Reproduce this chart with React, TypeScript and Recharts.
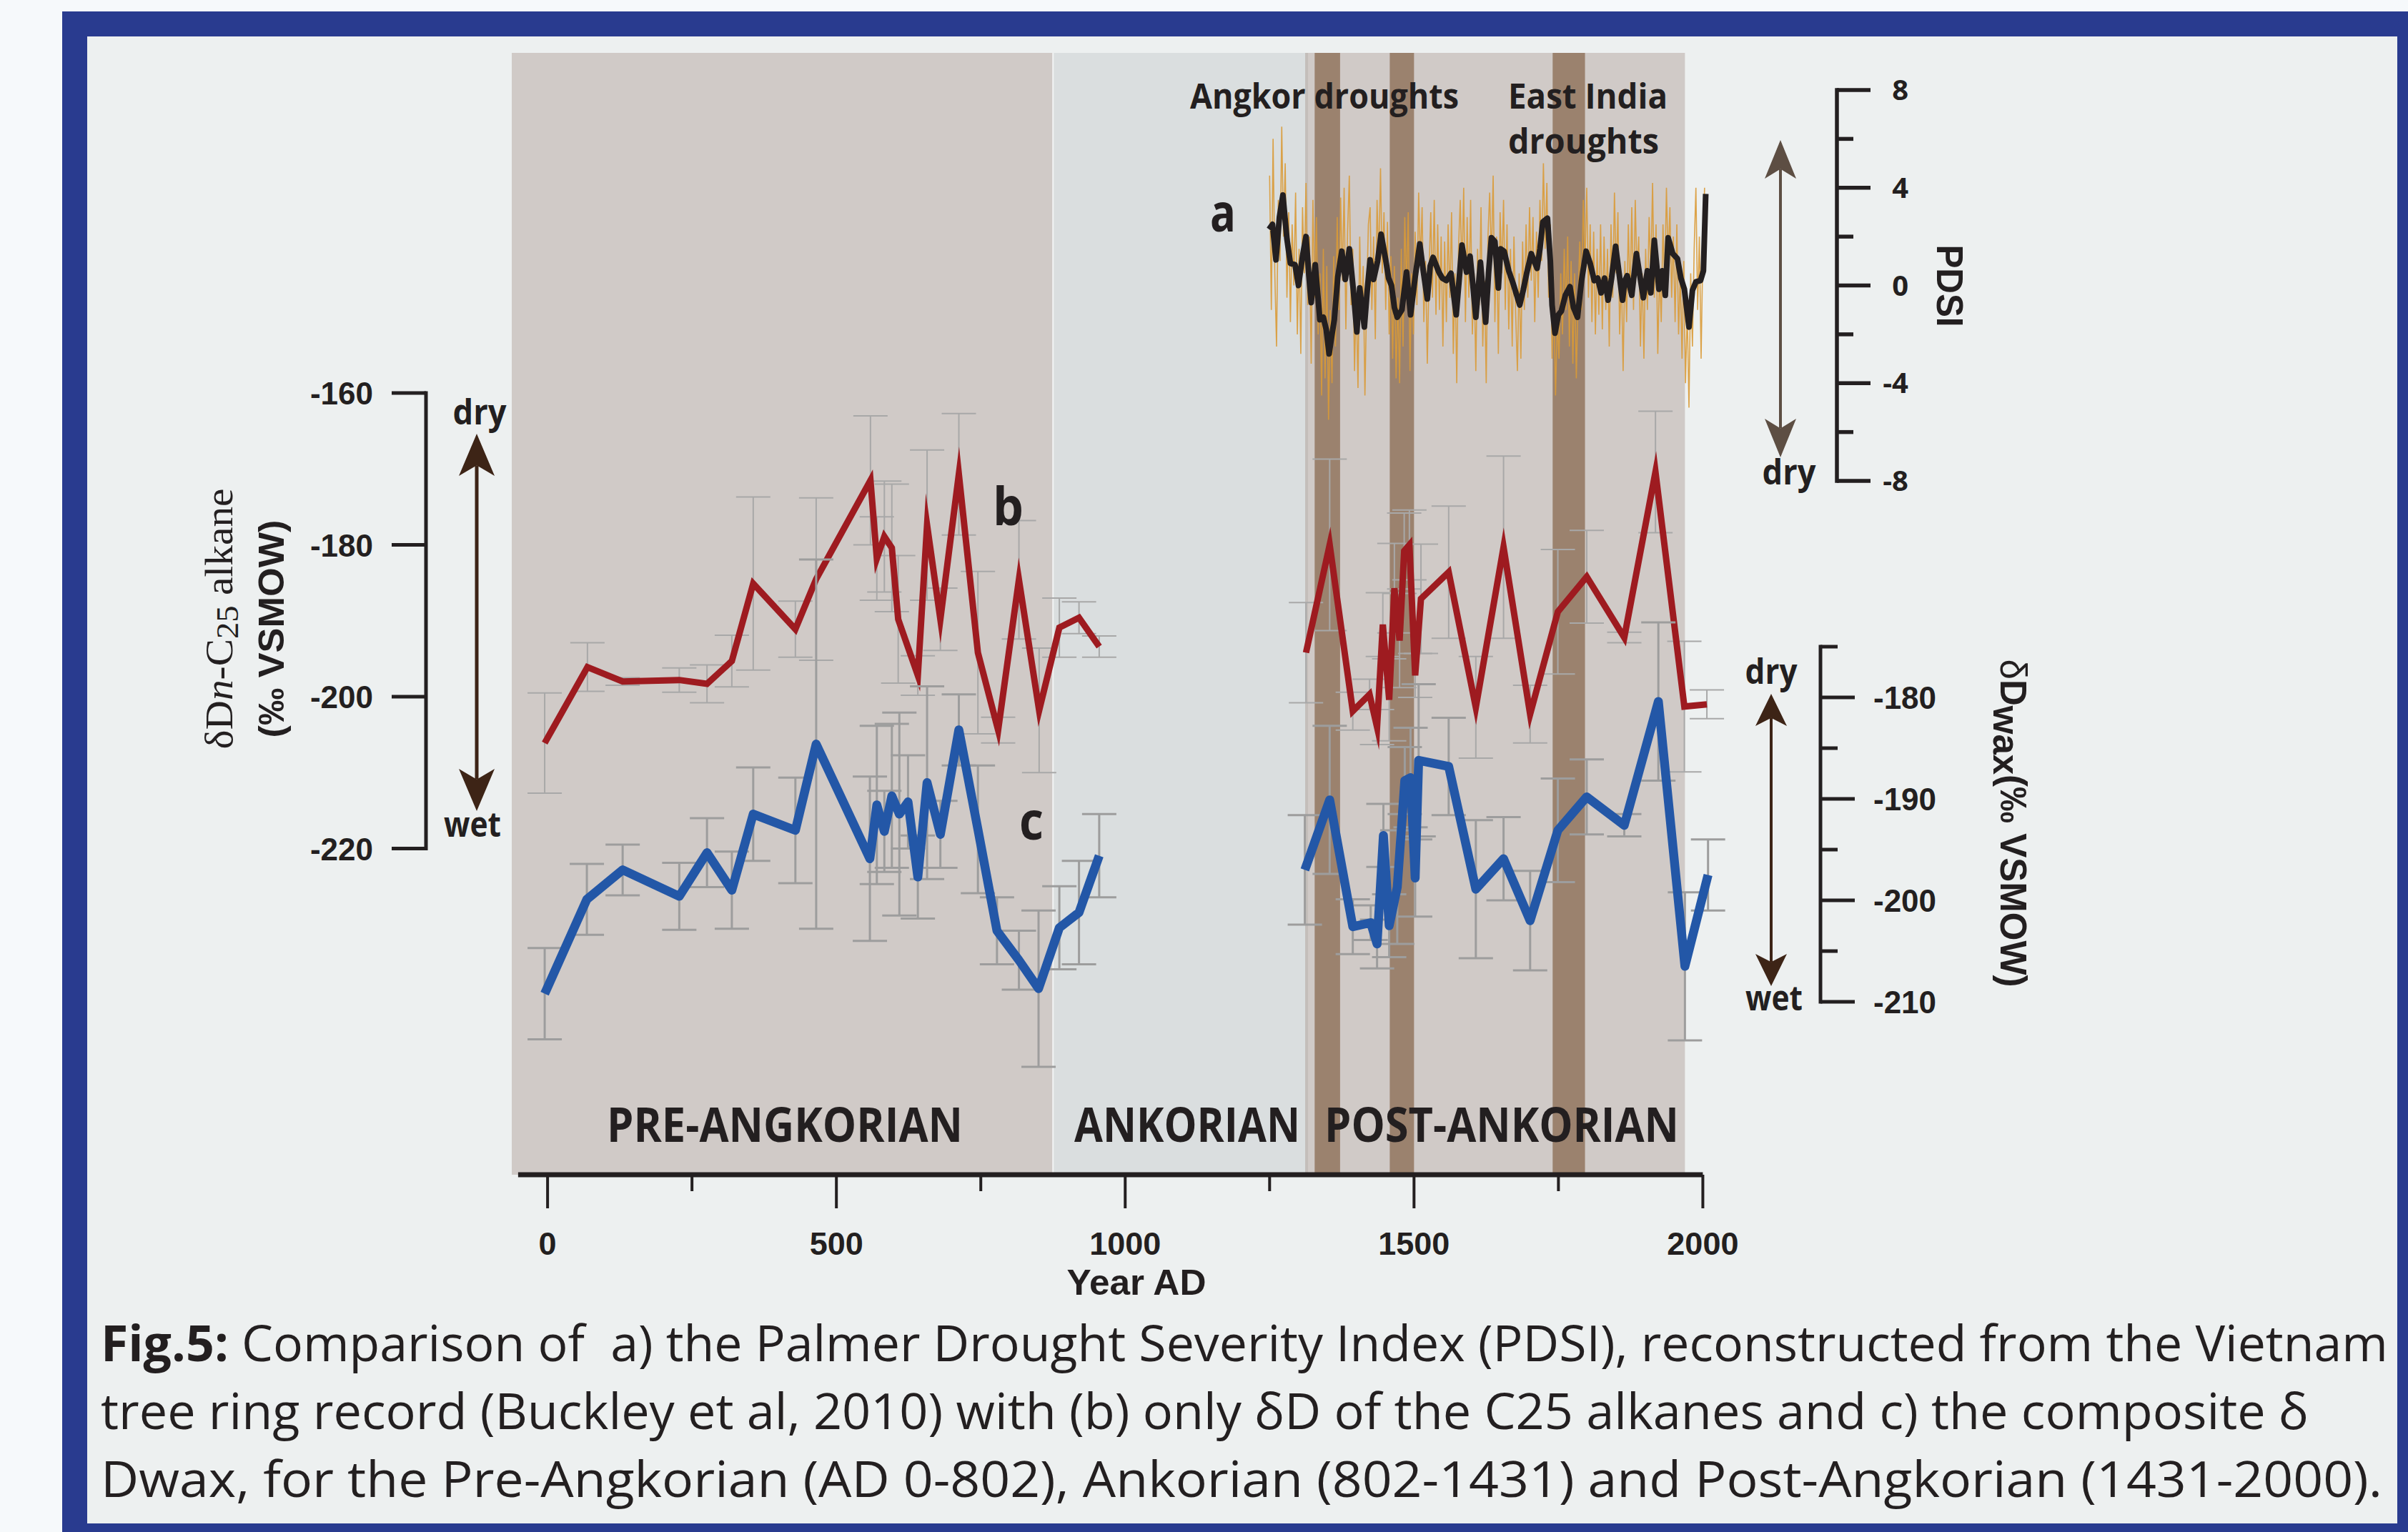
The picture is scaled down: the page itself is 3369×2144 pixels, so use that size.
import React from 'react';
import { ComposedChart, Line, XAxis, YAxis, ReferenceArea, ReferenceLine, ErrorBar } from 'recharts';

// ---------- data ----------
const X_TICKS = [0, 250, 500, 750, 1000, 1250, 1500, 1750, 2000];
const B_TICKS = [-160, -180, -200, -220];
const PDSI_TICKS = [8, 6, 4, 2, 0, -2, -4, -6, -8];
const WAX_TICKS = [-175, -180, -185, -190, -195, -200, -205, -210];

const PERIODS = [
  { name: 'PRE-ANGKORIAN', from: -62, to: 875, fill: '#d0cac7' },
  { name: 'ANKORIAN', from: 875, to: 1314, fill: '#dadedf' },
  { name: 'POST-ANKORIAN', from: 1314, to: 1969, fill: '#d0cac7' },
];
const DROUGHTS = [
  { from: 1328, to: 1372 },
  { from: 1458, to: 1500 },
  { from: 1740, to: 1796 },
];

// (b) dD n-C25 alkane (left axis); null marks the gap in the record
const B_YEARS = [-5, 69, 130, 228, 276, 319, 356, 429, 465, 559, 570, 583, 596, 607, 641, 657, 680, 712, 745, 780, 816, 851, 886, 920, 955,
  1100,
  1313, 1354, 1394, 1423, 1436, 1446, 1457, 1466, 1475, 1483, 1492, 1502, 1512, 1560, 1607, 1655, 1701, 1749, 1799, 1864, 1918, 1968, 2007];
const B_VALUES = [-206.1, -196.1, -198.0, -197.8, -198.3, -195.3, -185.1, -191.1, -184.5, -171.5, -181.8, -178.9, -180.4, -189.8, -197.2, -177.4, -189.8, -170.7, -194.2, -204.4, -184.6, -201.8, -190.9, -189.6, -193.4,
  null,
  -194.2, -180.0, -201.9, -199.7, -204.0, -190.5, -200.4, -185.7, -192.6, -180.8, -180.0, -197.2, -187.1, -183.6, -201.4, -180.3, -202.3, -188.8, -184.2, -192.2, -170.4, -201.3, -201.0];
const B_ERRORS = [6.6, 3.2, 0.5, 1.6, 2.5, 3.4, 11.4, 3.7, 10.7, 8.5, 5.5, 7.3, 8.4, 8.4, 2.6, 9.9, 4.1, 8.0, 10.7, 1.7, 7.8, 8.2, 3.9, 2.1, 1.4,
  null,
  6.6, 11.3, 2.5, 2.0, 2.3, 4.2, 5.4, 5.9, 6.2, 5.0, 4.6, 2.9, 7.2, 8.7, 6.7, 12.0, 3.8, 8.2, 6.1, 0.7, 8.0, 8.6, 1.9];

// (c) composite dDwax (right lower axis)
const C_YEARS = [-5, 68, 130, 228, 276, 319, 356, 429, 465, 558, 570, 583, 596, 609, 624, 641, 657, 680, 712, 745, 778, 816, 850, 886, 920, 955,
  1100,
  1311, 1354, 1394, 1425, 1436, 1447, 1457, 1471, 1484, 1494, 1502, 1508, 1560, 1607, 1655, 1701, 1749, 1799, 1864, 1923, 1969, 2009];
const C_VALUES = [-209.2, -199.9, -197.0, -199.6, -195.3, -199.0, -191.5, -193.1, -184.6, -195.9, -190.6, -193.2, -189.7, -191.5, -190.3, -197.7, -188.4, -193.5, -183.2, -193.0, -203.0, -205.9, -208.7, -202.7, -201.2, -195.6,
  null,
  -197.0, -190.1, -202.6, -202.2, -204.3, -193.6, -202.5, -198.7, -188.2, -187.9, -197.8, -186.2, -186.8, -198.9, -195.9, -202.0, -193.1, -189.8, -192.6, -180.4, -206.5, -197.5];
const C_ERRORS = [4.5, 3.5, 2.5, 3.3, 3.4, 3.8, 4.6, 5.2, 18.2, 8.1, 7.8, 4.0, 7.1, 10.0, 4.6, 4.1, 9.5, 3.3, 3.5, 6.3, 3.3, 2.9, 7.7, 4.1, 5.1, 4.1,
  null,
  5.4, 7.3, 2.7, 1.7, 2.4, 3.1, 3.1, 5.6, 3.3, 4.9, 3.8, 7.5, 4.8, 6.8, 4.1, 4.9, 5.1, 3.7, 1.1, 7.8, 7.3, 3.5];

// (a) PDSI smoothed record [year, value]
const PDSI_SMOOTH: [number, number][] = [
  [1249, 2.3], [1255, 2.5], [1261, 1.05], [1267, 2.8], [1273, 3.7], [1280, 1.9], [1286, 0.9], [1294, 0.85], [1300, 0.0], [1307, 1.2],
  [1313, 2.0], [1318, 0.4], [1322, -0.7], [1329, 0.85], [1337, -1.4], [1343, -1.3], [1348, -1.8], [1353, -2.8], [1358, -2.0], [1362, -1.4],
  [1368, 0.35], [1375, 1.4], [1381, 0.25], [1388, 1.5], [1395, -0.2], [1401, -1.9], [1406, -0.1], [1414, -1.7], [1419, -0.2], [1424, 1.05],
  [1430, 0.25], [1437, 1.0], [1443, 2.1], [1451, 1.05], [1456, 0.3], [1461, 0.0], [1466, -0.9], [1471, -1.3], [1479, -1.0], [1487, 0.55],
  [1494, -1.2], [1502, 0.35], [1510, 1.7], [1516, 0.6], [1523, -0.55], [1528, 0.8], [1533, 1.15], [1543, 0.55], [1549, 0.3], [1556, 0.2],
  [1564, 0.5], [1573, -1.2], [1578, 0.2], [1583, 1.65], [1591, 0.55], [1597, 1.2], [1602, 0.0], [1607, -1.3], [1615, 0.95], [1624, -1.5],
  [1629, 0.5], [1634, 1.95], [1640, 1.8], [1646, -0.1], [1650, 1.5], [1656, 1.4], [1664, 0.6], [1672, 0.05], [1683, -0.8], [1689, -0.2],
  [1695, 0.5], [1703, 1.3], [1713, 0.7], [1718, 1.5], [1723, 2.6], [1731, 2.75], [1736, 1.0], [1739, -0.8], [1744, -1.95], [1750, -1.2],
  [1755, -1.05], [1762, -0.4], [1770, -0.05], [1776, -0.9], [1783, -1.3], [1790, 0.2], [1798, 1.4], [1805, 0.9], [1812, 0.2], [1818, 0.3],
  [1824, -0.3], [1830, 0.3], [1836, -0.6], [1842, 0.3], [1849, 1.6], [1855, 0.5], [1861, -0.6], [1865, 0.2], [1869, 0.4], [1877, -0.4],
  [1885, 1.3], [1891, 0.4], [1897, -0.5], [1904, 0.6], [1910, -0.3], [1916, 1.85], [1924, -0.15], [1930, 0.6], [1935, -0.4], [1940, 1.95],
  [1948, 1.3], [1956, 1.1], [1962, 0.3], [1968, -0.15], [1976, -1.7], [1982, -0.2], [1988, 0.15], [1996, 0.2], [2001, 0.6], [2005, 3.75],
];

// (a) PDSI annual reconstruction, sampled every 3 years from 1250
const PDSI_START = 1250;
const PDSI_STEP = 3;
const PDSI_ANNUAL = [
  4.5, -1.0, 6.0, 0.5, -2.5, 3.5, 1.0, 6.5, 2.0, 5.0,
  -0.5, 3.0, -1.5, 2.5, 0.0, 3.8, -2.0, 1.5, -2.8, 3.2,
  0.5, 4.2, -0.8, 2.0, -3.2, 3.5, -0.5, 2.8, -2.0, 0.5,
  -4.5, 1.5, -3.8, 0.8, -5.5, -1.0, -4.0, 1.2, -2.5, 2.8,
  -1.0, 3.6, 0.2, 4.0, -1.8, 2.2, 4.5, -0.8, 1.5, -3.5,
  -0.5, -4.2, 2.0, -1.5, 0.8, -4.5, -0.5, 2.5, 3.2, -1.0,
  2.0, -2.2, 3.5, 1.0, 4.8, 0.5, 3.0, -1.0, 2.6, -2.0,
  1.2, -3.0, 0.8, -3.8, -0.5, -4.0, 1.5, -2.5, 2.8, 0.0,
  3.0, -3.5, 0.5, -2.0, 2.2, -0.8, 3.8, 1.0, 3.2, -1.5,
  1.0, -3.2, 0.5, 3.0, -0.5, 3.5, -1.2, 2.5, -1.0, 2.0,
  -2.5, 1.8, -1.5, 2.5, -0.5, 3.0, -2.8, 0.5, -4.0, 1.5,
  3.5, 0.5, 4.0, -1.5, 2.8, -0.5, 3.5, -2.0, 0.5, -3.5,
  1.5, -0.8, 3.2, -2.5, 0.2, -4.0, 2.0, 3.8, 1.0, 4.5,
  -1.5, 2.0, -2.8, 3.0, 0.5, 3.5, -1.0, 2.5, -1.8, 1.5,
  -2.5, 2.0, -1.2, -3.5, 0.5, -3.0, 1.8, -1.0, 2.5, -0.5,
  3.2, 0.2, 2.8, -1.5, 2.2, -0.5, 3.5, 1.0, 5.0, 1.5,
  4.2, -0.5, 2.5, -3.0, -0.5, -4.5, -1.5, -3.0, 0.5, -2.0,
  1.5, -1.0, 2.0, -2.5, 1.0, -3.2, 0.5, -3.8, -0.5, 1.8,
  -1.0, 3.5, 0.8, 4.0, -0.5, 2.5, -1.5, 2.2, -2.0, 1.5,
  -1.2, 2.5, -1.8, 2.0, -1.0, 1.5, -2.5, 2.5, -0.5, 3.8,
  0.5, 3.0, -2.0, 0.5, -3.5, 1.0, -1.5, 2.5, -0.5, 3.2,
  -1.0, 3.5, 0.5, 2.0, -2.5, 0.5, -3.0, 1.5, -1.0, 2.8,
  0.5, 4.2, -0.5, 2.5, -2.8, 0.5, -1.5, 2.5, 0.0, 4.0,
  1.0, 3.2, -0.5, 2.0, -1.5, 2.5, -2.0, 0.5, -3.0, 1.0,
  -4.0, -1.0, -5.0, 0.5, -2.5, 1.5, 4.0, -1.0, 2.0, -3.0,
  1.5, 4.0,
];

// ---------- derived tables for the library ----------
const bData = B_YEARS.map((year, i) => ({ year, v: B_VALUES[i], err: B_ERRORS[i] }));
const cData = C_YEARS.map((year, i) => ({ year, v: C_VALUES[i], err: C_ERRORS[i] }));
const pdsiSmoothData = PDSI_SMOOTH.map(([year, v]) => ({ year, v }));
const pdsiAnnualData = PDSI_ANNUAL.map((v, i) => ({ year: PDSI_START + i * PDSI_STEP, v }));

// ---------- layout ----------
const W = 3369;
const H = 2144;
const PLOT_L = 716;
const PLOT_R = 2401;
const PLOT_T = 74;
const PLOT_B = 1644;
const X_DOMAIN: [number, number] = [-62, 2023];
const B_DOMAIN: [number, number] = [-262.96, -115.2];
const PDSI_DOMAIN: [number, number] = [-36.4, 9.521];
const WAX_DOMAIN: [number, number] = [-227.04, -116.48];
const YAXIS_W = 100;
const XAXIS_H = 60;

const yrAt = (px: number) => X_DOMAIN[0] + ((px - PLOT_L) * (X_DOMAIN[1] - X_DOMAIN[0])) / (PLOT_R - PLOT_L);

const INK = '#231f20';
const SANS = "'Liberation Sans', Arial, sans-serif";
const MYR = "'Open Sans', 'Noto Sans', sans-serif";

function LeftTick(props: any) {
  const { x, y, payload } = props;
  const sx = x - 120;
  return (
    <g>
      <line x1={sx - 48} x2={sx} y1={y} y2={y} stroke={INK} strokeWidth={5} />
      <text x={sx - 74} y={y + 16} textAnchor="end" fontFamily={SANS} fontWeight={700} fontSize={44} fill={INK}>
        {payload.value}
      </text>
    </g>
  );
}

function PdsiTick(props: any) {
  const { x, y, payload } = props;
  const sx = x + 169;
  const major = payload.value % 4 === 0;
  return (
    <g>
      <line x1={sx} x2={sx + (major ? 47 : 23)} y1={y} y2={y} stroke={INK} strokeWidth={5.5} />
      {major && (
        <text x={sx + 100} y={y + 14} textAnchor="end" fontFamily={MYR} fontWeight={700} fontSize={40} fill={INK}>
          {payload.value}
        </text>
      )}
    </g>
  );
}

function WaxTick(props: any) {
  const { x, y, payload } = props;
  const sx = x + 46;
  const major = payload.value % 10 === 0;
  return (
    <g>
      <line x1={sx} x2={sx + (major ? 48 : 24)} y1={y} y2={y} stroke={INK} strokeWidth={5} />
      {major && (
        <text x={sx + 74} y={y + 16} textAnchor="start" fontFamily={SANS} fontWeight={700} fontSize={44} fill={INK}>
          {payload.value}
        </text>
      )}
    </g>
  );
}

function XTick(props: any) {
  const { x, y, payload } = props;
  const major = payload.value % 500 === 0;
  return (
    <g>
      <line x1={x} x2={x} y1={y} y2={y + (major ? 47 : 23)} stroke={INK} strokeWidth={4} />
      {major && (
        <text x={x} y={y + 112} textAnchor="middle" fontFamily={SANS} fontWeight={700} fontSize={45} fill={INK}>
          {payload.value}
        </text>
      )}
    </g>
  );
}

function DoubleArrow({ x, top, bottom, headLen, headHalf, color, shaft }: any) {
  const notch = headLen * 0.25;
  return (
    <g fill={color}>
      <line x1={x} x2={x} y1={top + headLen - notch} y2={bottom - headLen + notch} stroke={color} strokeWidth={shaft} />
      <polygon points={`${x},${top} ${x + headHalf},${top + headLen} ${x},${top + headLen - notch} ${x - headHalf},${top + headLen}`} />
      <polygon points={`${x},${bottom} ${x + headHalf},${bottom - headLen} ${x},${bottom - headLen + notch} ${x - headHalf},${bottom - headLen}`} />
    </g>
  );
}

function BoldText(p: any) {
  return <text fontFamily={MYR} fontWeight={700} fill={INK} lengthAdjust="spacingAndGlyphs" {...p} />;
}

export default function App() {
  return (
    <div style={{ position: 'absolute', left: 0, top: 0, width: W, height: H, overflow: 'hidden', background: '#f6f9fb' }}>
      <div style={{ position: 'absolute', left: 87, top: 16, width: W - 87, height: H - 16, background: '#293b8f' }} />
      <div style={{ position: 'absolute', left: 122, top: 51, width: 3354 - 122, height: 2132 - 51, background: '#edf0f0' }} />
      <div style={{ position: 'absolute', left: 0, top: 0 }}>
        <ComposedChart
          width={W}
          height={H}
          margin={{ top: PLOT_T, left: PLOT_L - YAXIS_W, right: W - PLOT_R - 2 * YAXIS_W, bottom: H - PLOT_B - XAXIS_H }}
        >
          <XAxis
            dataKey="year"
            type="number"
            domain={X_DOMAIN}
            allowDataOverflow
            ticks={X_TICKS}
            interval={0}
            height={XAXIS_H}
            axisLine={false}
            tickLine={false}
            tickSize={0}
            tickMargin={0}
            tick={(p: any) => <XTick {...p} />}
          />
          <YAxis
            yAxisId="b"
            orientation="left"
            type="number"
            domain={B_DOMAIN}
            allowDataOverflow
            ticks={B_TICKS}
            interval={0}
            width={YAXIS_W}
            axisLine={false}
            tickLine={false}
            tickSize={0}
            tickMargin={0}
            tick={(p: any) => <LeftTick {...p} />}
          />
          <YAxis
            yAxisId="pdsi"
            orientation="right"
            type="number"
            domain={PDSI_DOMAIN}
            allowDataOverflow
            ticks={PDSI_TICKS}
            interval={0}
            width={YAXIS_W}
            axisLine={false}
            tickLine={false}
            tickSize={0}
            tickMargin={0}
            tick={(p: any) => <PdsiTick {...p} />}
          />
          <YAxis
            yAxisId="wax"
            orientation="right"
            type="number"
            domain={WAX_DOMAIN}
            allowDataOverflow
            ticks={WAX_TICKS}
            interval={0}
            width={YAXIS_W}
            axisLine={false}
            tickLine={false}
            tickSize={0}
            tickMargin={0}
            tick={(p: any) => <WaxTick {...p} />}
          />

          {PERIODS.map((p) => (
            <ReferenceArea key={p.name} yAxisId="pdsi" x1={p.from} x2={p.to} fill={p.fill} fillOpacity={1} stroke="none" ifOverflow="visible" />
          ))}
          {DROUGHTS.map((d) => (
            <ReferenceArea key={`d${d.from}`} yAxisId="pdsi" x1={d.from} x2={d.to} fill="#9b826e" fillOpacity={1} stroke="none" ifOverflow="visible" />
          ))}
          <ReferenceLine yAxisId="pdsi" x={875} stroke="#f2f4f4" strokeWidth={2} />
          <ReferenceLine yAxisId="pdsi" x={1314} stroke="#c4beba" strokeWidth={4} />

          <Line data={pdsiAnnualData} dataKey="v" yAxisId="pdsi" type="linear" stroke="#d99a36" strokeWidth={1.6} strokeOpacity={0.9} dot={false} isAnimationActive={false} />
          <Line data={pdsiSmoothData} dataKey="v" yAxisId="pdsi" type="linear" stroke={INK} strokeWidth={8} strokeLinejoin="round" dot={false} isAnimationActive={false} />

          <Line data={bData} dataKey="v" yAxisId="b" type="linear" stroke="#9e1b20" strokeWidth={9} strokeMiterlimit={10} dot={false} connectNulls={false} isAnimationActive={false}>
            <ErrorBar dataKey="err" width={24} strokeWidth={2} stroke="#a8a8a8" direction="y" />
          </Line>
          <Line data={cData} dataKey="v" yAxisId="wax" type="linear" stroke="#2357a7" strokeWidth={12.5} strokeLinejoin="round" dot={false} connectNulls={false} isAnimationActive={false}>
            <ErrorBar dataKey="err" width={24} strokeWidth={3} stroke="#9d9d9d" direction="y" />
          </Line>

          {/* axis spines */}
          <ReferenceLine yAxisId="b" segment={[{ x: yrAt(596), y: -160 }, { x: yrAt(596), y: -220 }]} stroke={INK} strokeWidth={5} ifOverflow="visible" strokeLinecap="square" />
          <ReferenceLine yAxisId="pdsi" segment={[{ x: yrAt(2570), y: 8 }, { x: yrAt(2570), y: -8 }]} stroke={INK} strokeWidth={5.5} ifOverflow="visible" strokeLinecap="square" />
          <ReferenceLine yAxisId="wax" segment={[{ x: yrAt(2547), y: -175 }, { x: yrAt(2547), y: -210 }]} stroke={INK} strokeWidth={5} ifOverflow="visible" strokeLinecap="square" />
          <ReferenceLine yAxisId="pdsi" segment={[{ x: -51, y: PDSI_DOMAIN[0] }, { x: 2000, y: PDSI_DOMAIN[0] }]} stroke={INK} strokeWidth={7} ifOverflow="visible" />
        </ComposedChart>
      </div>

      <svg width={W} height={H} style={{ position: 'absolute', left: 0, top: 0, pointerEvents: 'none' }}>
        {/* period labels */}
        <BoldText x={849} y={1598} fontSize={66} textLength={498}>PRE-ANGKORIAN</BoldText>
        <BoldText x={1503} y={1598} fontSize={66} textLength={316}>ANKORIAN</BoldText>
        <BoldText x={1853} y={1598} fontSize={66} textLength={496}>POST-ANKORIAN</BoldText>

        {/* drought labels */}
        <BoldText x={1665} y={152} fontSize={48} textLength={376}>Angkor droughts</BoldText>
        <BoldText x={2110} y={152} fontSize={48} textLength={223}>East India</BoldText>
        <BoldText x={2110} y={215} fontSize={48} textLength={211}>droughts</BoldText>

        {/* series letters */}
        <BoldText x={1693} y={324} fontSize={74} textLength={36}>a</BoldText>
        <BoldText x={1389} y={735} fontSize={74} textLength={43}>b</BoldText>
        <BoldText x={1426} y={1175} fontSize={74} textLength={34}>c</BoldText>

        {/* dry / wet */}
        <BoldText x={671} y={594} fontSize={48} textAnchor="middle" textLength={75}>dry</BoldText>
        <BoldText x={661} y={1171} fontSize={48} textAnchor="middle" textLength={80}>wet</BoldText>
        <BoldText x={2503} y={678} fontSize={48} textAnchor="middle" textLength={75}>dry</BoldText>
        <BoldText x={2478} y={957} fontSize={48} textAnchor="middle" textLength={73}>dry</BoldText>
        <BoldText x={2482} y={1414} fontSize={48} textAnchor="middle" textLength={80}>wet</BoldText>

        {/* arrows */}
        <DoubleArrow x={667} top={607} bottom={1135} headLen={59} headHalf={25} color="#3d2416" shaft={5} />
        <DoubleArrow x={2491} top={196} bottom={640} headLen={54} headHalf={22} color="#5d4e43" shaft={4} />
        <DoubleArrow x={2478} top={971} bottom={1380} headLen={45} headHalf={22} color="#3d2416" shaft={4} />

        {/* axis titles */}
        <text transform="translate(325,866) rotate(-90)" textAnchor="middle" fontFamily="'Liberation Serif', 'Times New Roman', serif" fontSize={54} fill={INK} textLength={365} lengthAdjust="spacingAndGlyphs">
          δD<tspan fontStyle="italic">n</tspan>-C<tspan fontSize={44} dy={8}>25</tspan><tspan dy={-8}> alkane</tspan>
        </text>
        <text transform="translate(397,880) rotate(-90)" textAnchor="middle" fontFamily={SANS} fontWeight={700} fontSize={50} fill={INK} textLength={305} lengthAdjust="spacingAndGlyphs">
          (‰ VSMOW)
        </text>
        <text transform="translate(2710,400) rotate(90)" textAnchor="middle" fontFamily={SANS} fontWeight={700} fontSize={52} fill={INK} textLength={115} lengthAdjust="spacingAndGlyphs">
          PDSI
        </text>
        <text transform="translate(2799,1152) rotate(90)" textAnchor="middle" fontFamily={SANS} fontWeight={700} fontSize={52} fill={INK} textLength={459} lengthAdjust="spacingAndGlyphs">
          <tspan fontWeight={400}>δ</tspan>D<tspan dy={10}>wax</tspan><tspan dy={-10}>(‰ VSMOW)</tspan>
        </text>
        <text x={1590} y={1812} textAnchor="middle" fontFamily={SANS} fontWeight={700} fontSize={50} fill={INK} textLength={195} lengthAdjust="spacingAndGlyphs">
          Year AD
        </text>

        {/* caption */}
        <text x={141} y={1905} fontFamily={MYR} fontSize={70} fill={INK} textLength={3200} lengthAdjust="spacingAndGlyphs" style={{ whiteSpace: 'pre' }}>
          <tspan fontWeight={700}>Fig.5:</tspan> Comparison of  a) the Palmer Drought Severity Index (PDSI), reconstructed from the Vietnam
        </text>
        <text x={141} y={2000} fontFamily={MYR} fontSize={70} fill={INK} textLength={3089} lengthAdjust="spacingAndGlyphs">
          tree ring record (Buckley et al, 2010) with (b) only δD of the C25 alkanes and c) the composite δ
        </text>
        <text x={141} y={2095} fontFamily={MYR} fontSize={70} fill={INK} textLength={3192} lengthAdjust="spacingAndGlyphs">
          Dwax, for the Pre-Angkorian (AD 0-802), Ankorian (802-1431) and Post-Angkorian (1431-2000).
        </text>
      </svg>
    </div>
  );
}
